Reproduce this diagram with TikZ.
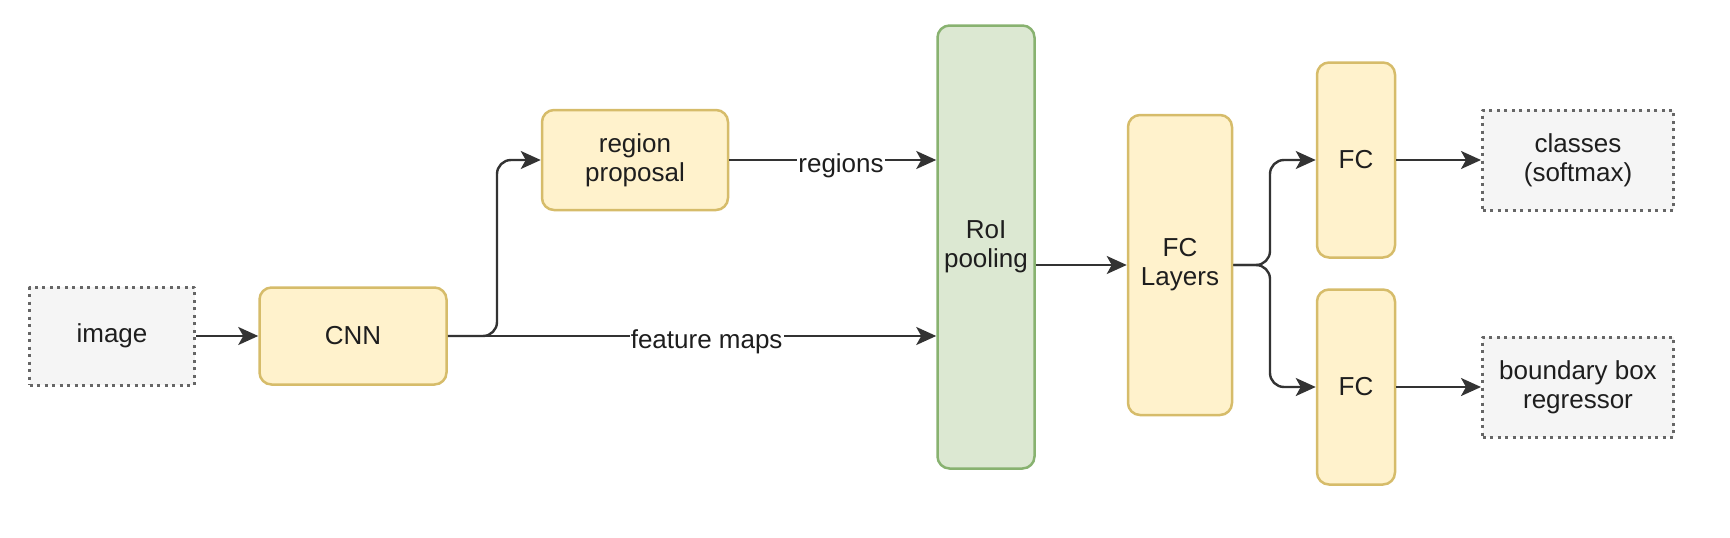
\documentclass[tikz,border=0pt]{standalone}
\usepackage{fontspec}
\setmainfont{Liberation Sans}
\usetikzlibrary{arrows.meta}
\definecolor{stagefill}{HTML}{FFF2CC}
\definecolor{stageline}{HTML}{D6BC6A}
\definecolor{poolfill}{HTML}{DCE8D2}
\definecolor{poolline}{HTML}{88B270}
\definecolor{iofill}{HTML}{F5F5F5}
\definecolor{ioline}{HTML}{666666}
\definecolor{linkcol}{HTML}{333333}
\definecolor{txtcol}{HTML}{1E1E1E}
\begin{document}
\begin{tikzpicture}[x=1pt, y=-1pt, line join=round, text=txtcol,
			>={Stealth[length=20pt,width=18pt,inset=5pt]},
			font=\fontsize{26}{29}\selectfont,
			stage/.style={draw=stageline, fill=stagefill, line width=2.5pt, rounded corners=12pt, align=center, inner sep=0pt},
			pool/.style={stage, draw=poolline, fill=poolfill},
			io/.style={draw=ioline, fill=iofill, line width=3pt, dash pattern=on 3pt off 4.5pt, align=center, inner sep=0pt},
			link/.style={->, draw=linkcol, line width=2.4pt},
			lab/.style={fill=white, inner sep=1pt, yshift=-6pt}
			]
			\useasboundingbox (0,0) rectangle (1730,538);
			\node[io, minimum width=165pt, minimum height=98pt] (img) at (112,336) {image};
			\node[stage, minimum width=187pt, minimum height=97pt] (cnn) at (353,336) {CNN};
			\node[stage, minimum width=186pt, minimum height=100pt] (rp) at (635,160) {region\\proposal};
			\node[pool, minimum width=97pt, minimum height=443pt] (roi) at (986,247) {RoI\\pooling};
			\node[stage, minimum width=104pt, minimum height=300pt] (fcl) at (1180,265) {FC\\Layers};
			\foreach \n/\y in {fc1/160, fc2/387}
			\node[stage, minimum width=78pt, minimum height=195pt] (\n) at (1356,\y) {FC};
			\foreach \n/\y/\t in {cls/160/{classes\\(softmax)}, bbr/387/{boundary box\\regressor}}
			\node[io, minimum width=191pt, minimum height=100pt] (\n) at (1578,\y) {\t};
			\coordinate (cnnfork) at (497,336);
			\coordinate (fclfork) at (1270,265);
			\draw[link] (img) -- (cnn);
			\draw[link, rounded corners=14pt] (cnn.east) -- (cnnfork) |- (rp.west);
			\draw[link] (cnn.east) -- (roi.west |- cnn.east) node[lab, pos=.53] {feature maps};
			\draw[link] (rp.east) -- (roi.west |- rp.east) node[lab, pos=.54] {regions};
			\draw[link] (roi.east |- fcl.west) -- (fcl.west);
			\foreach \b in {fc1, fc2}
			\draw[link, rounded corners=14pt] (fcl.east) -- (fclfork) |- (\b.west);
			\foreach \a/\b in {fc1/cls, fc2/bbr}
			\draw[link] (\a) -- (\b);
\end{tikzpicture}
\end{document}
